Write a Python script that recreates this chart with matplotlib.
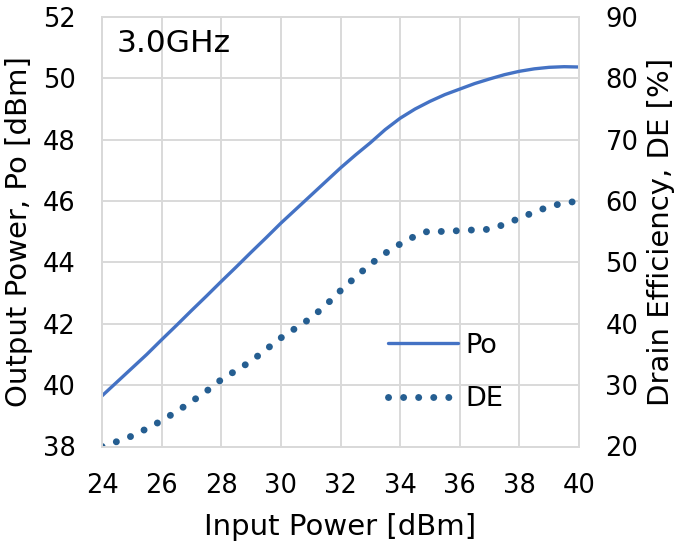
import matplotlib.pyplot as plt

# input power sweep [dBm]
pin = [24, 24.5, 25, 25.5, 26, 26.5, 27, 27.5, 28, 28.5, 29, 29.5, 30, 30.5, 31, 31.5,
       32, 32.5, 33, 33.5, 34, 34.5, 35, 35.5, 36, 36.5, 37, 37.5, 38, 38.5, 39, 39.5, 40]
# output power [dBm]
po = [39.65, 40.1, 40.55, 41.0, 41.48, 41.95, 42.43, 42.9, 43.38, 43.85, 44.33, 44.8,
      45.28, 45.73, 46.18, 46.63, 47.08, 47.5, 47.9, 48.33, 48.7, 49.0, 49.25, 49.47,
      49.65, 49.83, 49.98, 50.12, 50.23, 50.31, 50.36, 50.38, 50.37]
# drain efficiency [%]
de = [20.0, 20.8, 21.7, 22.9, 24.2, 25.7, 27.3, 29.0, 30.9, 32.4, 33.9, 35.8, 37.7,
      39.3, 40.9, 43.0, 45.4, 47.6, 49.7, 51.5, 53.0, 54.3, 55.2, 55.0, 55.2, 55.3,
      55.4, 56.2, 57.2, 58.2, 59.1, 59.7, 60.0]

xticks = list(range(24, 41, 2))
left_ticks = list(range(38, 53, 2))
right_ticks = list(range(20, 91, 10))

plt.rcParams['font.family'] = ['DejaVu Sans']
tick_fs = 18.5
label_fs = 21
grid_c = '#D9D9D9'

W, H = 676, 544
fig = plt.figure(figsize=(W / 100, H / 100), dpi=100)
ax = fig.add_axes([102 / W, 1 - 446.5 / H, (579 - 102) / W, (446.5 - 17) / H])
ax2 = ax.twinx()

l1, = ax.plot(pin, po, color='#4472C4', lw=2.4, solid_capstyle='round', label='Po')
l2, = ax2.plot(pin, de, color='#255E91', lw=5.0, linestyle=(0, (0.01, 2.16)),
               dash_capstyle='round', label='DE')

ax.set_xlim(24, 40)
ax.set_ylim(38, 52)
ax2.set_ylim(20, 90)
ax.set_xticks(xticks)
ax.set_yticks(left_ticks)
ax2.set_yticks(right_ticks)

ax.grid(True, color=grid_c, lw=1.4)
ax.set_axisbelow(True)
for a in (ax, ax2):
    for s in a.spines.values():
        s.set_color(grid_c)
        s.set_linewidth(1.4)
    a.tick_params(length=0, labelsize=tick_fs, pad=19, colors='black')

ax.set_xlabel('Input Power [dBm]', fontsize=label_fs, labelpad=10)
ax.set_ylabel('Output Power, Po [dBm]', fontsize=label_fs, labelpad=7)
ax2.set_ylabel('Drain Efficiency, DE [%]', fontsize=label_fs, labelpad=6)

fig.text(117 / W, 1 - 29 / H, '3.0GHz', fontsize=22.5, va='top', ha='left')

ax2.legend([l1, l2], ['Po', 'DE'], loc='center left',
           bbox_to_anchor=(388 / W, 1 - 372.5 / H), bbox_transform=fig.transFigure,
           frameon=False, fontsize=19.5, handlelength=2.6, handletextpad=0.26,
           labelspacing=1.0, borderpad=0, borderaxespad=0)

fig.savefig('out.png', dpi=100)
